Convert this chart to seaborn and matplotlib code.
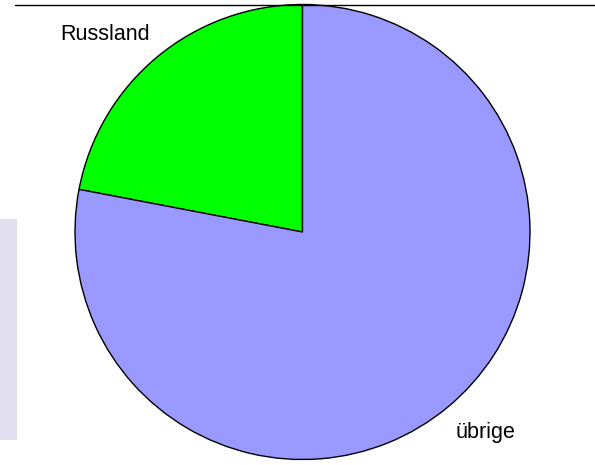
import matplotlib
matplotlib.use("Agg")
import matplotlib.pyplot as plt
import seaborn as sns
from matplotlib.lines import Line2D
from matplotlib.patches import Rectangle

# Data
labels = ["Russland", "übrige"]
shares = [22, 78]
colors = ["#00ff00", "#9999ff"]

sns.set_theme(style="white")
plt.rcParams['font.family'] = ['Liberation Sans', 'DejaVu Sans']

fig = plt.figure(figsize=(5.95, 4.65), dpi=100)
fig.patch.set_facecolor("white")

# light side panel on the left
fig.add_artist(Rectangle((0, 1 - 440 / 465), 17 / 595, 221 / 465,
                         transform=fig.transFigure, facecolor="#e0deef",
                         edgecolor="none", zorder=0))

ax = fig.add_axes([75 / 595, 5.5 / 465, 455 / 595, 455 / 465])
wedges, texts = ax.pie(shares, labels=labels, colors=colors, startangle=90,
                       counterclock=True, radius=1,
                       wedgeprops=dict(edgecolor="black", linewidth=1),
                       textprops=dict(fontsize=15.5, color="black"))
ax.set_xlim(-1, 1)
ax.set_ylim(-1, 1)
ax.set_aspect("equal")
ax.axis("off")

# move the labels to where the original puts them
texts[0].set_transform(ax.transAxes)
texts[0].set_position((0.165, 0.933))
texts[0].set_ha("right")
texts[0].set_va("center")
texts[1].set_transform(ax.transAxes)
texts[1].set_position((0.837, 0.06))
texts[1].set_ha("left")
texts[1].set_va("center")

# thin rule across the top
fig.add_artist(Line2D([15 / 595, 1], [1 - 5 / 465, 1 - 5 / 465],
                      transform=fig.transFigure, color="black", linewidth=1))

fig.savefig("out.png", dpi=100)
